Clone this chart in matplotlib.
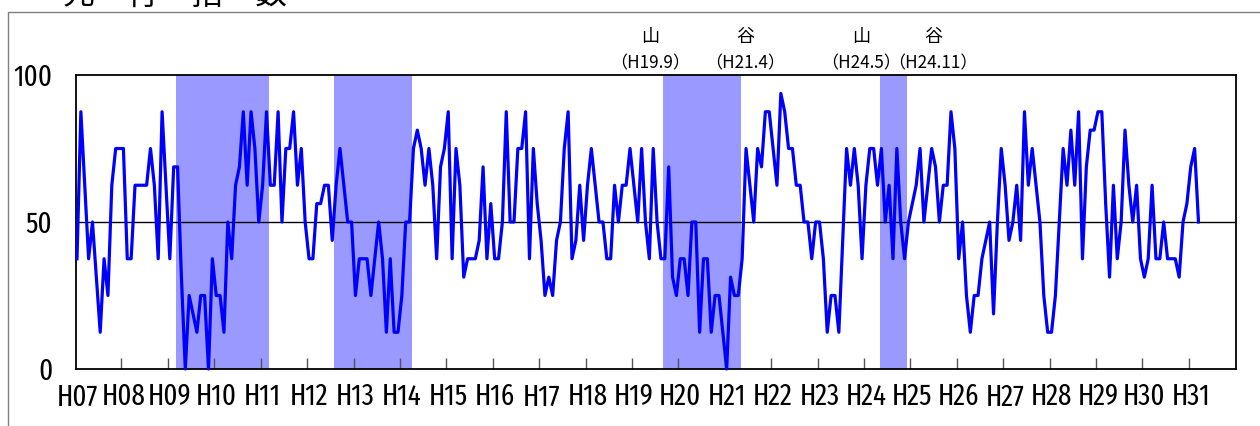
import numpy as np
import matplotlib.pyplot as plt
from matplotlib.patches import Rectangle

W, H = 1260, 426

# Heisei years, one label per January
years = list(range(7, 32))
year_labels = ['H%02d' % y for y in years]

# monthly leading DI, H07.1 .. H31.3
di = [
    37.5, 87.5, 62.5, 37.5, 50, 31.25, 12.5, 37.5, 25, 62.5, 75, 75,          # H07
    75, 37.5, 37.5, 62.5, 62.5, 62.5, 62.5, 75, 62.5, 37.5, 87.5, 62.5,       # H08
    37.5, 68.75, 68.75, 31.25, 0, 25, 18.75, 12.5, 25, 25, 0, 37.5,           # H09
    25, 25, 12.5, 50, 37.5, 62.5, 68.75, 87.5, 62.5, 87.5, 75, 50,            # H10
    62.5, 87.5, 62.5, 62.5, 87.5, 50, 75, 75, 87.5, 62.5, 75, 50,             # H11
    37.5, 37.5, 56.25, 56.25, 62.5, 62.5, 43.75, 62.5, 75, 62.5, 50, 50,      # H12
    25, 37.5, 37.5, 37.5, 25, 37.5, 50, 37.5, 12.5, 37.5, 12.5, 12.5,         # H13
    25, 50, 50, 75, 81.25, 75, 62.5, 75, 62.5, 37.5, 68.75, 75,               # H14
    87.5, 37.5, 75, 62.5, 31.25, 37.5, 37.5, 37.5, 43.75, 68.75, 37.5, 56.25, # H15
    37.5, 37.5, 50, 87.5, 50, 50, 75, 75, 87.5, 37.5, 75, 56.25,              # H16
    43.75, 25, 31.25, 25, 43.75, 50, 75, 87.5, 37.5, 43.75, 62.5, 43.75,      # H17
    62.5, 75, 62.5, 50, 50, 37.5, 37.5, 62.5, 50, 62.5, 62.5, 75,             # H18
    62.5, 50, 75, 50, 37.5, 75, 50, 37.5, 37.5, 68.75, 31.25, 25,             # H19
    37.5, 37.5, 25, 50, 50, 12.5, 37.5, 37.5, 12.5, 25, 25, 12.5,             # H20
    0, 31.25, 25, 25, 37.5, 75, 62.5, 50, 75, 68.75, 87.5, 87.5,              # H21
    75, 62.5, 93.75, 87.5, 75, 75, 62.5, 62.5, 50, 50, 37.5, 50,              # H22
    50, 37.5, 12.5, 25, 25, 12.5, 43.75, 75, 62.5, 75, 62.5, 37.5,            # H23
    62.5, 75, 75, 62.5, 75, 50, 62.5, 37.5, 75, 50, 37.5, 50,                 # H24
    56.25, 62.5, 75, 50, 62.5, 75, 68.75, 50, 62.5, 62.5, 87.5, 75,           # H25
    37.5, 50, 25, 12.5, 25, 25, 37.5, 43.75, 50, 18.75, 50, 75,               # H26
    62.5, 43.75, 50, 62.5, 43.75, 87.5, 62.5, 75, 62.5, 50, 25, 12.5,         # H27
    12.5, 25, 50, 75, 62.5, 81.25, 62.5, 87.5, 37.5, 68.75, 81.25, 81.25,     # H28
    87.5, 87.5, 56.25, 31.25, 62.5, 37.5, 50, 81.25, 62.5, 50, 62.5, 37.5,    # H29
    31.25, 37.5, 62.5, 37.5, 37.5, 50, 37.5, 37.5, 37.5, 31.25, 50, 56.25,    # H30
    68.75, 75, 50,                                                            # H31
]

# business cycle peaks / troughs (year, month)
peaks = [(9, 3), (12, 8), (19, 9), (24, 5)]
troughs = [(11, 2), (14, 3), (21, 4), (24, 11)]


def month_index(y, m):
    return (y - 7) * 12 + (m - 1)


fig = plt.figure(figsize=(W / 100, H / 100), dpi=100)
ax = fig.add_axes([76 / W, 1 - 369 / H, 1160 / W, 294 / H])

for p, t in zip(peaks, troughs):
    ax.axvspan(month_index(*p) - 0.45, month_index(*t) + 0.6, color='#9999ff', lw=0)
ax.axhline(50, color='black', lw=1)

x = np.arange(len(di))
ax.plot(x, di, color='#0000ff', lw=2.3, clip_on=False, zorder=3)

ax.set_xlim(-0.26, 299.7)
ax.set_ylim(0, 100)

num_font = ['Fira Sans Extra Condensed', 'Fira Sans Condensed', 'Liberation Sans']
ax.set_yticks([0, 50, 100])
ax.set_yticklabels(['0', '50', '100'], family=num_font, fontsize=21)
ax.set_xticks([12 * k for k in range(len(years))])
ax.set_xticklabels(year_labels, family=num_font, fontsize=21)
ax.set_xticks([12 * k - 0.5 for k in range(1, len(years))], minor=True)
ax.tick_params(axis='both', which='major', length=0)
ax.tick_params(axis='x', which='major', pad=10)
ax.tick_params(axis='y', which='major', pad=17)
ax.tick_params(axis='x', which='minor', direction='in', length=8, width=1, color='#555555')
for s in ax.spines.values():
    s.set_color('black')
    s.set_linewidth(1.3)

# outer frame
fig.add_artist(Rectangle((8 / W, -0.1), 2, 1 - 12 / H + 0.1, transform=fig.transFigure,
                         fill=False, edgecolor='#808080', lw=1))

cjk = ['Noto Sans CJK JP', 'DejaVu Sans']
fig.text(175 / W, 1 - 4 / H, '先　行　指　数', family=cjk, fontsize=23,
         ha='center', va='baseline')

# peak / trough marks for the last two cycles
marks = ['山', '谷', '山', '谷']
dates = []
for p, t in zip(peaks[2:], troughs[2:]):
    dates.append('H%d.%d' % p)
    dates.append('H%d.%d' % t)
for lab, d, xp in zip(marks, dates, [650, 745, 861, 933]):
    fig.text(xp / W, 1 - 37 / H, lab, family=cjk, fontsize=13, ha='center', va='center')
    fig.text(xp / W, 1 - 63 / H, '（' + d + '）', family=cjk, fontsize=12.3,
             ha='center', va='center')

fig.savefig('out.png', dpi=100)
